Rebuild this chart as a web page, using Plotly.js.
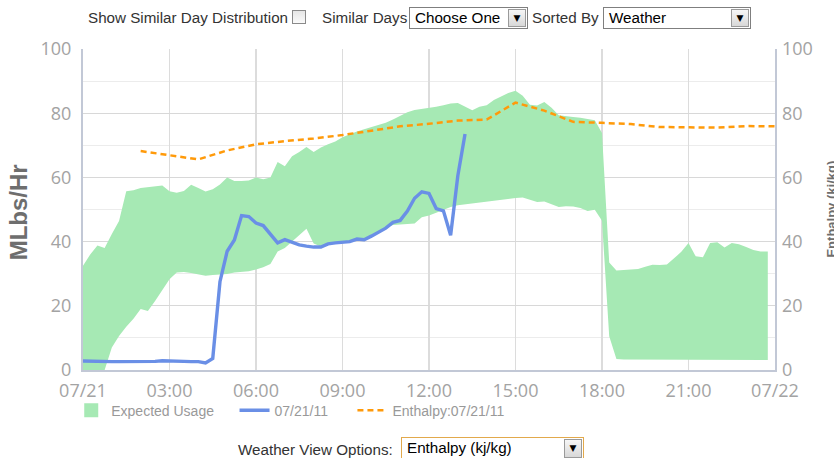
<!DOCTYPE html>
<html><head><meta charset="utf-8">
<script src="https://cdn.plot.ly/plotly-3.0.1.min.js"></script>
<style>
html,body{margin:0;padding:0;background:#fff;overflow:hidden;}
#chart{position:absolute;left:0;top:0;width:834px;height:458px;}
.ctl{position:absolute;font-family:Arial,"Liberation Sans",sans-serif;font-size:15.2px;color:#333;white-space:nowrap;line-height:20px;z-index:2;}
.box{position:absolute;box-sizing:border-box;border:1px solid #7f7f7f;background:#fff;font-family:Arial,"Liberation Sans",sans-serif;font-size:15.2px;color:#000;line-height:19px;padding-left:5px;white-space:nowrap;z-index:2;}
.arrow{position:absolute;top:1px;right:1px;bottom:1px;width:18px;background:linear-gradient(#f6f6f6,#d8d8d8);border:1px solid #9a9a9a;box-sizing:border-box;font-family:"DejaVu Sans",sans-serif;font-size:9px;color:#000;text-align:center;line-height:16px;padding:0;}
.chk{position:absolute;box-sizing:border-box;width:14px;height:14px;border:1px solid #8a8a8a;background:linear-gradient(#e6e6e6,#fafafa);z-index:2;}
</style></head>
<body>
<div id="chart"></div>
<div class="ctl" style="left:88px;top:8px;">Show Similar Day Distribution</div>
<div class="chk" style="left:292px;top:10px;"></div>
<div class="ctl" style="left:322px;top:8px;">Similar Days</div>
<div class="box" style="left:409px;top:7px;width:119px;height:22px;">Choose One<div class="arrow">&#9660;</div></div>
<div class="ctl" style="left:532px;top:8px;">Sorted By</div>
<div class="box" style="left:603px;top:7px;width:148px;height:22px;">Weather<div class="arrow">&#9660;</div></div>
<div class="ctl" style="left:238px;top:440px;">Weather View Options:</div>
<div class="box" style="left:401px;top:437px;width:183px;height:24px;border:1px solid #e2a94c;">Enthalpy (kj/kg)<div class="arrow" style="height:19px;bottom:auto;">&#9660;</div></div>
<script>
// ---- data ----
// Expected usage band, 15-minute steps from 00:00 to 23:45 (MLbs/Hr)
const expectedUpper = [32.5,36,38.75,38,42.4,46.4,55.7,56,56.7,57,57.2,57.5,
  55.7,55.2,55.8,57.7,56.7,55.6,56.3,57.8,60,58.9,58.9,59,
  60,59.4,60,64.8,63.5,66.6,67.9,69.5,67.9,69.3,70.3,71.2,
  72.5,73.5,74.3,75,75.6,76.2,77,78,79.2,80.3,81,81.3,
  81.6,82,82.5,83,83.2,82,80.9,82,82.5,84.1,85.3,86.3,
  87,85.4,82.6,82.4,83.5,81.7,79.4,79,78.8,78.6,78.3,77.8,
  73.8,33.5,31,31.2,31.4,31.5,32.2,32.8,32.7,32.9,34.8,36.8,
  39.6,35.4,35.1,39.6,39.8,38.2,39.6,39.2,38.3,37.4,36.9,36.9];
const expectedLower = [0,0,0,0,7,10.6,13.5,16,19,18.4,21.5,25,
  28.3,30.4,30.5,30.2,29.9,29.4,29.6,29.8,29.9,30.4,30.5,30.8,
  31.3,32,33,36.9,38,40,42.2,44,39.4,38.5,39,39.5,
  39.8,40,40.3,40.8,41.8,43,44.3,45.2,45.4,45.5,45.6,47.6,
  48.1,49,50,50.8,51.3,51.6,51.8,52.1,52.4,52.7,53,53.4,
  53.6,53.7,53.1,52.3,52.5,51.6,50.8,51,50.9,50.5,49.5,49.9,
  46.5,10.5,3.4,3.3,3.3,3.2,3.2,3.2,3.2,3.2,3.2,3.2,
  3.2,3.2,3.1,3.2,3.2,3.3,3.3,3.2,3.2,3.1,3.1,3.1];
// Actual usage 07/21/11, 15-minute steps from 00:00 to 13:15
const usage0721 = [2.8,2.7,2.8,2.7,2.6,2.6,2.6,2.6,2.6,2.6,2.7,2.9,
  2.9,2.9,2.7,2.6,2.6,2.2,3.6,27.5,37,40.5,48.1,47.8,
  45.8,45,42.3,39.6,40.6,39.8,39,38.6,38.3,38.3,39.3,39.6,
  39.8,40,40.8,40.6,41.7,43.1,44.2,46,46.6,49.5,53.5,55.5,
  55,50.3,49.6,42,60.5,73.5];
// Enthalpy (kj/kg), hourly from 02:00 to 24:00
const enthalpyHours = [2,3,4,5,6,7,8,9,10,11,12,13,14,15,16,17,18,19,20,21,22,23,24];
const enthalpy0721 = [68.2,67,65.6,68.4,70.3,71.3,72.1,73.2,74.5,75.9,76.7,77.7,78,
  83.3,80.8,77.3,77,76.6,75.7,75.5,75.5,76,75.9];
const tickHours = [0,3,6,9,12,15,18,21,24];
const tickLabels = ['07/21','03:00','06:00','09:00','12:00','15:00','18:00','21:00','07/22'];
const yTicks = [0,20,40,60,80,100];
const seriesNames = ['Expected Usage','07/21/11','Enthalpy:07/21/11'];

// ---- helpers ----
function stamp(minutes){
  const d = new Date(Date.UTC(2011,6,21,0,0) + minutes*60000);
  const p = n => String(n).padStart(2,'0');
  return d.getUTCFullYear()+'-'+p(d.getUTCMonth()+1)+'-'+p(d.getUTCDate())+' '+p(d.getUTCHours())+':'+p(d.getUTCMinutes());
}
const quarterTimes = n => Array.from({length:n},(_,i)=>stamp(i*15));
const bandX = quarterTimes(expectedUpper.length);
const usageX = quarterTimes(usage0721.length);
const enthX = enthalpyHours.map(h=>stamp(h*60));
const pad = k => '\u00a0'.repeat(k);   // legend spacing only

const GREEN = '#a6e9b4', BLUE = '#6a8fe6', ORANGE = '#ff9a0a';
const tickFont = {family:'"Open Sans", Arial, sans-serif', size:18, color:'#a3a3a3'};

const traces = [
  {x:bandX, y:expectedLower, type:'scatter', mode:'lines', line:{width:0,color:GREEN}, showlegend:false, hoverinfo:'skip'},
  {x:bandX, y:expectedUpper, type:'scatter', mode:'lines', fill:'tonexty', fillcolor:GREEN, line:{width:0,color:GREEN}, showlegend:false, hoverinfo:'skip'},
  {x:[null], y:[null], type:'scatter', mode:'markers', name:seriesNames[0]+pad(4), marker:{symbol:'square', size:14, color:GREEN}},
  {x:usageX, y:usage0721, type:'scatter', mode:'lines', name:seriesNames[1]+pad(5), line:{width:3.4,color:BLUE}},
  {x:enthX, y:enthalpy0721, type:'scatter', mode:'lines', name:seriesNames[2], yaxis:'y2', line:{width:2.5,color:ORANGE,dash:'6px,4px'}}
];

const layout = {
  width:834, height:458,
  margin:{l:83, r:59, t:49, b:88},
  paper_bgcolor:'#fff', plot_bgcolor:'#fff',
  showlegend:true,
  legend:{orientation:'h', traceorder:'normal', x:-0.017, xanchor:'left', y:-0.077, yanchor:'top',
    font:{family:'Arial, "Liberation Sans", sans-serif', size:14, color:'#999'}, bgcolor:'rgba(0,0,0,0)'},
  xaxis:{type:'date', range:[stamp(0), stamp(1440)], tickmode:'array',
    tickvals:tickHours.map(h=>stamp(h*60)), ticktext:tickLabels,
    showgrid:true, gridcolor:'#dcdcdc', gridwidth:1.3, zeroline:false,
    showline:true, linecolor:'#c2c8d6', linewidth:2, ticks:'', tickfont:tickFont, ticklabelstandoff:3, fixedrange:true},
  yaxis:{range:[0,100], tickmode:'array', tickvals:yTicks, showgrid:true, gridcolor:'#d8d8d8', gridwidth:1.3,
    minor:{dtick:10, showgrid:true, gridcolor:'#ececec', gridwidth:1},
    zeroline:false, showline:true, linecolor:'#c2c8d6', linewidth:2, mirror:true, ticks:'',
    tickfont:tickFont, ticklabelstandoff:6, fixedrange:true},
  yaxis2:{range:[0,100], overlaying:'y', side:'right', tickmode:'array', tickvals:yTicks, showgrid:false,
    zeroline:false, showline:false, ticks:'', tickfont:tickFont, ticklabelstandoff:6, fixedrange:true},
  annotations:[
    {text:'MLbs/Hr', xref:'paper', yref:'paper', x:-0.093, y:0.49, xanchor:'center', yanchor:'middle', textangle:-90, showarrow:false,
      font:{family:'Arial, "Liberation Sans", sans-serif', size:24, color:'#6e6e6e', weight:'bold'}},
    {text:'Enthalpy (kj/kg)', xref:'paper', yref:'paper', x:1.081, y:0.5, xanchor:'center', yanchor:'middle', textangle:-90, showarrow:false,
      font:{family:'Arial, "Liberation Sans", sans-serif', size:13, color:'#6e6e6e', weight:'bold'}}
  ]
};
Plotly.newPlot('chart', traces, layout, {displayModeBar:false, staticPlot:true});
</script>
</body></html>
